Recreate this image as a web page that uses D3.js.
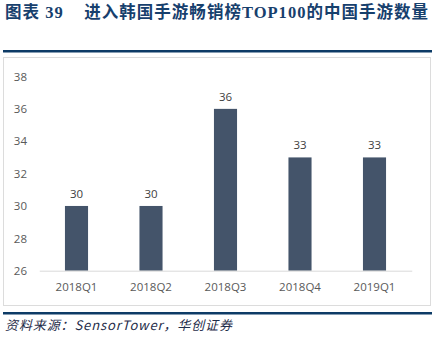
<!DOCTYPE html>
<html><head><meta charset="utf-8">
<script src="https://cdn.jsdelivr.net/npm/d3@7/dist/d3.min.js"></script>
<style>body{margin:0;background:#fff;}svg{display:block;}</style>
</head><body>
<script>
const categories = ["2018Q1","2018Q2","2018Q3","2018Q4","2019Q1"];
const values = [30,30,36,33,33];
const yTicks = [26,28,30,32,34,36,38];
const titleText = "图表 39\u00a0\u00a0\u00a0\u00a0进入韩国手游畅销榜TOP100的中国手游数量";
const sourceText = "资料来源：SensorTower，华创证券";

const W = 435, H = 338;
const svg = d3.select("body").append("svg").attr("width", W).attr("height", H);

svg.append("text").attr("x", 5).attr("y", 17.5)
  .attr("font-family", "'Liberation Serif','Noto Sans CJK SC',serif")
  .attr("font-weight", "bold").attr("font-size", 16.5).attr("fill", "#17406d")
  .attr("textLength", 423).attr("lengthAdjust", "spacing")
  .text(titleText);

svg.append("rect").attr("x", 3).attr("y", 50).attr("width", 429).attr("height", 2.5).attr("fill", "#0d3b66");
svg.append("rect").attr("x", 3.5).attr("y", 57.5).attr("width", 427).attr("height", 248).attr("fill", "none").attr("stroke", "#dcdcdc");
svg.append("rect").attr("x", 3).attr("y", 312).attr("width", 429).attr("height", 2.5).attr("fill", "#0d3b66");

svg.append("text").attr("x", 5).attr("y", 330)
  .attr("font-family", "'Noto Sans CJK SC',serif").attr("font-style", "italic")
  .attr("font-size", 13).attr("fill", "#1f2d4a")
  .attr("textLength", 227).attr("lengthAdjust", "spacing")
  .text(sourceText);

const x = d3.scaleBand().domain(categories).range([39.25, 411.75]).paddingInner(0.69).paddingOuter(0.345);
const y = d3.scaleLinear().domain([26, 38]).range([270.7, 76.5]);

const yAxis = svg.append("g").attr("transform", "translate(30,0)")
  .call(d3.axisLeft(y).tickValues(yTicks).tickSize(0).tickPadding(3));
yAxis.select(".domain").remove();
yAxis.selectAll("text").attr("font-family", "'Open Sans','Noto Sans',sans-serif").attr("font-size", 11.5).attr("fill", "#595959");

svg.append("g").selectAll("rect").data(values).join("rect")
  .attr("x", (d,i) => x(categories[i])).attr("width", x.bandwidth())
  .attr("y", d => y(d)).attr("height", d => y(26) - y(d)).attr("fill", "#44546a");

svg.append("g").selectAll("text").data(values).join("text")
  .attr("x", (d,i) => x(categories[i]) + x.bandwidth()/2).attr("y", d => y(d) - 8)
  .attr("text-anchor", "middle").attr("font-family", "'Open Sans','Noto Sans',sans-serif")
  .attr("font-size", 11.5).attr("fill", "#404040").text(d => d);

const xAxis = svg.append("g").attr("transform", `translate(0,${y(26)})`)
  .call(d3.axisBottom(x).tickSize(0).tickPadding(12));
xAxis.select(".domain").attr("stroke", "#d9d9d9").attr("stroke-width", 1);
xAxis.selectAll("text").attr("font-family", "'Open Sans','Noto Sans',sans-serif").attr("font-size", 11.5).attr("fill", "#595959");
</script>
</body></html>
